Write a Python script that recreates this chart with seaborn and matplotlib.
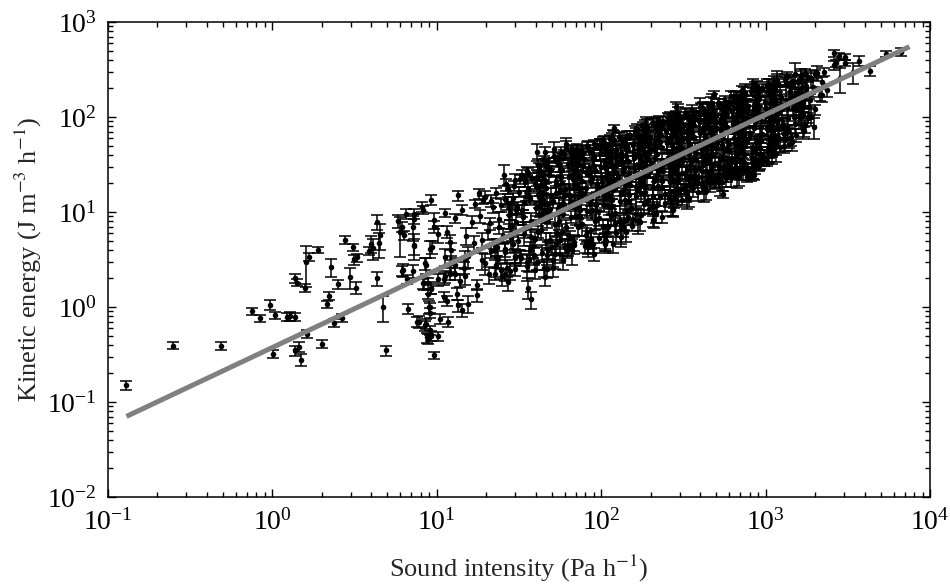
import numpy as np
import pandas as pd
import matplotlib
matplotlib.use("Agg")
import matplotlib.pyplot as plt
import seaborn as sns
from matplotlib.ticker import LogLocator, NullFormatter

# ---------------- data ----------------
# isolated low-intensity points (x: sound intensity, y: kinetic energy, rel: relative error)
low_x = [0.129, 0.25, 0.49, 0.75, 0.84, 0.97, 1.01, 1.04, 1.23, 1.28, 1.37, 1.37, 1.42, 1.58, 1.61,
         1.68, 1.89, 1.38, 1.46, 1.49, 1.62, 2.0, 2.16, 2.21, 2.28, 2.36, 2.53, 2.64, 2.77, 2.96,
         3.10, 3.14, 3.29, 3.22, 3.87, 4.0, 4.09, 4.31, 4.31, 4.45, 4.51, 4.71, 4.89, 5.8, 6.0,
         6.15, 6.15, 6.37, 6.7, 6.6, 7.25, 7.25, 7.2, 7.3, 7.2, 7.6]
low_y = [0.15, 0.39, 0.39, 0.90, 0.76, 1.06, 0.32, 0.82, 0.79, 0.80, 0.79, 2.0, 1.81, 1.59, 2.98,
         3.37, 3.99, 0.35, 0.38, 0.28, 0.52, 0.41, 1.07, 1.31, 2.64, 0.68, 1.73, 0.77, 5.08, 2.06,
         4.26, 3.18, 3.32, 1.60, 3.89, 4.61, 4.19, 7.86, 2.0, 4.66, 5.69, 1.0, 0.35, 8.05, 6.17,
         6.97, 2.40, 5.69, 0.96, 1.96, 9.6, 8.5, 7.0, 4.5, 2.4, 0.70]
low_rel = [0.10, 0.085, 0.10, 0.09, 0.08, 0.12, 0.10, 0.09, 0.09, 0.10, 0.10, 0.10, 0.09, 0.09, 0.46,
           0.09, 0.08, 0.12, 0.12, 0.15, 0.10, 0.09, 0.09, 0.09, 0.22, 0.10, 0.10, 0.10, 0.10, 0.25,
           0.09, 0.12, 0.10, 0.15, 0.10, 0.20, 0.25, 0.17, 0.16, 0.30, 0.30, 0.30, 0.12, 0.15, 0.45,
           0.12, 0.12, 0.10, 0.12, 0.12, 0.12, 0.12, 0.30, 0.30, 0.15, 0.12]

# distinct points around 6-120 Pa/h
mid_x = [8.1, 8.5, 9.1, 9.6, 8.4, 8.8, 9.0, 8.6, 8.7, 9.6, 9.3, 7.8, 9.3, 13.4, 18.0,
         25.5, 6.5, 8.3, 7.3, 9.4, 6.2, 8.5, 9.1, 8.9, 9.3, 10.2, 11.7, 11.1, 11.6, 13.3,
         13.5, 14.3, 15.5, 17.7, 14.9, 11.1, 12.0, 12.2, 9.2, 8.3, 8.6, 18.8, 23.1, 23.7, 22.6,
         24.8, 26.1, 27.1, 24.5, 29.9, 32.1, 29.2, 36, 37.7, 39.5, 44.8, 46.9, 51, 39, 58.6,
         62.8, 55.9, 68.8, 83, 87, 81, 9.1, 9.1, 10.5, 13.0, 11.3, 10.2, 8.9, 11.3, 13.0,
         14.9, 22.6, 45.8, 51, 91, 105, 118, 9.7, 10.2, 19.6, 21.5, 29.9, 34.3, 41, 45.8,
         52, 61, 65.3, 98, 119]
mid_y = [11.3, 2.88, 4.1, 7.0, 1.77, 1.38, 1.0, 0.67, 0.48, 0.31, 1.56, 0.70, 13.5, 15.0, 15.7,
         24.8, 9.6, 10.6, 4.36, 4.3, 2.44, 0.64, 0.57, 0.46, 0.50, 0.49, 0.70, 1.27, 1.16, 1.38,
         1.04, 0.93, 1.08, 1.33, 2.11, 1.99, 2.24, 3.95, 1.6, 1.77, 2.75, 3.1, 2.75, 3.2, 3.95,
         2.1, 2.2, 1.83, 2.44, 3.3, 3.45, 4.6, 1.6, 1.2, 2.44, 2.6, 2.5, 3.1, 3.5, 3.1,
         4.3, 5.05, 4.5, 4.3, 5.05, 5.7, 0.99, 0.87, 0.75, 2.24, 2.1, 1.95, 1.77, 3.36, 2.75,
         3.2, 2.24, 2.06, 2.6, 3.6, 4.6, 4.6, 8.2, 5.9, 14.5, 13.2, 21.6, 21.6, 43.3, 42.3,
         45.9, 46.7, 41.4, 46.7, 77]
mid_rel = [.12, .15, .2, .15, .15, .12, .15, .12, .12, .08, .12, .15, .12, .12, .12,
           .25, .12, .1, .2, .15, .15, .12, .1, .12, .12, .1, .12, .12, .12, .15,
           .15, .15, .2, .15, .2, .15, .15, .2, .15, .12, .2, .2, .25, .2, .2,
           .2, .15, .2, .2, .15, .15, .2, .25, .2, .2, .2, .2, .15, .2, .2,
           .2, .2, .2, .15, .2, .2, .12, .12, .12, .15, .15, .15, .15, .2, .2,
           .2, .15, .2, .2, .15, .2, .2, .2, .2, .15, .15, .15, .15, .2, .15,
           .2, .2, .15, .25, .08]

# distinct points on the edges of the cloud above 50 Pa/h
high_x = [61, 98, 190, 284, 397, 486, 618, 840, 139, 123, 220, 259, 305, 343, 56,
          60, 89, 107, 132, 142, 93, 145, 156, 206, 236, 272, 284, 320, 343, 385,
          463, 508, 558, 551, 773, 828, 110, 121, 2590, 2800, 3040, 2690, 3040, 3720, 4310,
          5430, 6700, 3410, 2840, 2360, 2200, 1830, 1960, 1690, 1540, 1350, 1290, 1020, 910, 810,
          1070, 1100, 612, 671, 520, 867, 1175, 1350, 1740, 2000, 2250, 105, 291, 848, 930,
          1095, 1290, 720, 889, 1120, 2590]
high_y = [51.8, 48.5, 75.9, 128, 128, 173, 166, 226, 52.7, 44.8, 86, 89, 86, 97, 3.6,
          4.3, 4.6, 4.9, 5.4, 6.1, 8.3, 8.9, 8.5, 8.2, 8.9, 10.6, 13.8, 18.4, 21.6, 21.6,
          21.6, 22.5, 28.7, 15.3, 23.5, 25.5, 7.0, 7.6, 468, 438, 431, 367, 373, 388, 307,
          460, 486, 299, 255, 192, 170, 128, 78, 72.7, 64.5, 79, 67, 33.7, 31.1, 23.8,
          50.6, 44.8, 27.5, 28.7, 21.6, 208, 235, 265, 292, 283, 299, 5.05, 13.2, 24.5, 32.1,
          52.7, 49.4, 191, 212, 244, 350]
high_rel = [.15, .2, .25, .12, .25, .08, .12, .1, .15, .15, .15, .15, .15, .15, .2,
            .2, .2, .2, .2, .2, .2, .15, .15, .15, .15, .15, .15, .15, .15, .12,
            .12, .12, .12, .08, .12, .12, .2, .2, .08, .08, .08, .08, .08, .12, .12,
            .08, .1, .25, .3, .15, .15, .2, .25, .2, .15, .15, .15, .1, .1, .1,
            .15, .15, .15, .15, .15, .12, .12, .12, .1, .1, .1, .2, .15, .12, .12,
            .12, .15, .12, .12, .12, .1]

# dense cloud, 11-56 Pa/h
cloud_a_x = [11.5, 12.3, 13.0, 12.0, 13.8, 11.2,
             14.2, 15.0, 16.3, 15.6, 17.2, 14.7, 16.8, 17.6,
             18.3, 19.1, 20.4, 21.5, 19.7, 22.0, 18.9, 21.1, 20.8, 22.2,
             22.9, 23.8, 24.6, 25.3, 26.2, 27.1, 27.8, 23.4, 25.9, 26.7, 24.1, 28.0,
             28.6, 29.4, 30.3, 31.2, 32.0, 32.9, 33.8, 34.7, 35.2, 29.9, 31.7, 33.3, 34.2, 30.8,
             35.9, 36.8, 37.6, 38.5, 39.4, 40.3, 41.2, 42.2, 43.1, 44.0, 36.3, 38.0, 39.9, 41.7, 43.6, 44.4,
             45.2, 46.3, 47.5, 48.6, 49.8, 51.0, 52.2, 53.5, 54.7, 55.8, 46.9, 48.1, 50.4, 52.9, 54.1, 55.2]
cloud_a_y = [6.2, 2.9, 8.6, 4.8, 1.9, 9.8,
             10.5, 5.6, 7.9, 3.4, 12.1, 2.6, 4.7, 1.7,
             9.1, 13.5, 6.3, 3.9, 2.9, 11.2, 5.1, 7.6, 2.2, 4.6,
             15.8, 8.4, 11.9, 5.6, 3.8, 17.3, 7.2, 4.3, 13.8, 2.6, 6.9, 10.1,
             12.6, 18.8, 7.9, 4.9, 22.1, 10.4, 5.8, 14.7, 3.0, 2.5, 16.2, 8.8, 6.6, 11.2,
             26.0, 13.9, 8.1, 4.4, 19.5, 11.0, 6.2, 29.4, 16.1, 9.4, 3.1, 22.8, 5.2, 14.3, 3.7, 24.0,
             35.0, 17.7, 9.9, 5.1, 27.5, 13.0, 7.4, 21.2, 38.1, 11.6, 3.5, 24.4, 4.3, 16.0, 6.0, 30.9]
cloud_a_rel = [.15, .2, .12, .18, .15, .1,
               .12, .2, .15, .25, .1, .15, .2, .12,
               .15, .1, .2, .15, .25, .12, .18, .15, .2, .12,
               .12, .2, .15, .18, .25, .1, .15, .2, .12, .2, .15, .18,
               .15, .12, .2, .18, .1, .15, .25, .12, .2, .15, .12, .18, .2, .15,
               .12, .15, .2, .25, .1, .18, .15, .12, .2, .15, .25, .12, .18, .15, .2, .1,
               .1, .15, .2, .18, .12, .15, .25, .12, .1, .2, .2, .15, .18, .12, .2, .15]

# dense cloud, 56-224 Pa/h
cloud_b_x = [56.8, 58.2, 59.6, 61.0, 62.5, 64.0, 65.5, 67.1, 68.7, 70.1, 57.5, 60.3, 63.2, 66.3, 69.4, 58.9, 61.7, 67.9,
             71.6, 73.3, 75.0, 76.8, 78.6, 80.4, 82.3, 84.2, 86.2, 88.2, 72.5, 74.2, 77.7, 79.5, 81.4, 83.3, 85.2, 87.2,
             90.1, 92.2, 94.4, 96.6, 98.9, 101, 104, 106, 108, 111, 91.1, 93.3, 95.5, 97.7, 100, 102, 105, 107, 110, 109,
             113, 116, 118, 121, 124, 127, 130, 133, 136, 139, 114, 117, 120, 123, 126, 129, 132, 135, 138, 140,
             143, 146, 150, 153, 157, 161, 164, 168, 172, 176, 144, 148, 151, 155, 159, 163, 166, 170, 174, 177,
             180, 184, 189, 193, 198, 202, 207, 212, 217, 222, 182, 186, 191, 196, 200, 205, 210, 214, 219, 223, 187, 208]
cloud_b_y = [42.2, 20.3, 11.8, 6.9, 32.0, 15.2, 8.9, 25.3, 4.8, 38.7, 28.0, 17.6, 5.7, 12.8, 19.9, 9.6, 3.9, 44.6,
             46.0, 23.5, 13.3, 7.5, 35.8, 18.1, 10.2, 29.0, 5.2, 41.3, 31.6, 9.0, 15.6, 4.4, 26.2, 49.5, 12.2, 21.0,
             52.0, 27.4, 15.1, 8.6, 40.5, 20.8, 11.8, 33.1, 6.1, 47.3, 36.2, 10.5, 18.0, 5.3, 30.0, 55.4, 13.9, 24.1, 7.2, 16.6,
             58.4, 30.7, 17.2, 9.7, 45.0, 23.5, 13.1, 36.8, 6.9, 52.3, 40.2, 11.6, 20.5, 6.0, 33.4, 62.1, 15.4, 27.0, 8.1, 19.0,
             65.0, 34.1, 19.3, 10.9, 50.6, 26.2, 14.7, 41.1, 7.8, 58.0, 45.4, 13.0, 23.0, 7.2, 37.2, 70.0, 17.1, 30.0, 9.2, 21.5,
             80.5, 42.3, 23.8, 13.4, 62.0, 32.5, 18.2, 50.8, 9.6, 71.5, 56.1, 16.1, 28.4, 10.8, 46.0, 86.7, 21.1, 37.3, 11.9, 26.5, 66.0, 14.6]
cloud_b_rel = [.15, .2, .12, .18, .1, .25, .15, .12, .2, .15, .18, .12, .2, .15, .25, .1, .15, .12,
               .12, .15, .2, .25, .1, .18, .15, .12, .2, .15, .12, .2, .18, .15, .1, .12, .25, .15,
               .1, .15, .2, .18, .12, .25, .15, .1, .2, .12, .15, .18, .2, .12, .15, .1, .2, .25, .15, .12,
               .12, .2, .15, .18, .1, .15, .25, .12, .2, .1, .15, .18, .12, .2, .15, .1, .25, .12, .2, .15,
               .1, .15, .2, .12, .18, .15, .25, .1, .2, .12, .15, .2, .18, .12, .15, .1, .2, .25, .15, .12,
               .1, .15, .2, .12, .18, .15, .25, .1, .2, .12, .15, .2, .18, .12, .15, .1, .2, .25, .15, .12, .18, .2]

# dense cloud, 224-710 Pa/h
cloud_c_x = [226, 232, 237, 243, 249, 255, 261, 267, 273, 279, 229, 234, 240, 246, 252, 258, 264, 270, 276, 281, 235, 262,
             285, 291, 298, 306, 313, 321, 328, 336, 344, 352, 288, 295, 302, 309, 317, 324, 332, 340, 348, 354, 296, 330, 338, 311,
             359, 367, 376, 385, 394, 404, 413, 423, 433, 443, 363, 371, 380, 390, 399, 409, 418, 428, 438, 445, 372, 415, 426, 393,
             452, 463, 474, 485, 497, 509, 521, 533, 546, 558, 457, 468, 479, 491, 503, 515, 527, 540, 552, 560, 469, 520, 536, 495,
             569, 582, 596, 610, 625, 640, 655, 671, 687, 703, 575, 589, 603, 617, 632, 648, 663, 679, 695, 706, 590, 655, 675, 623]
cloud_c_y = [92.0, 48.3, 27.3, 15.4, 71.2, 37.4, 20.9, 58.6, 11.0, 82.0, 64.4, 18.5, 32.6, 12.4, 53.0, 98.3, 24.2, 42.8, 13.7, 30.3, 76.0, 16.7,
             105, 55.3, 31.2, 17.6, 81.2, 42.7, 23.9, 66.8, 14.1, 94.0, 73.4, 21.2, 37.2, 13.3, 60.4, 110, 27.7, 48.9, 19.3, 34.6, 87.0, 16.0, 76.0, 26.0,
             118, 62.1, 35.0, 20.0, 91.1, 47.9, 26.9, 74.9, 16.6, 106, 82.6, 23.8, 41.7, 16.2, 67.8, 124, 31.1, 54.9, 21.7, 38.8, 97.5, 18.6, 85.0, 29.0,
             132, 69.8, 39.4, 22.6, 102, 53.7, 30.2, 84.1, 20.8, 119, 92.6, 26.7, 46.8, 20.3, 76.1, 139, 34.9, 61.6, 24.4, 43.6, 110, 22.0, 95.0, 32.5,
             148, 78.3, 44.1, 25.3, 115, 60.2, 33.9, 94.3, 23.3, 134, 104, 29.9, 52.5, 22.7, 85.3, 156, 39.1, 69.1, 27.4, 48.9, 123, 25.5, 107, 36.5]
cloud_c_rel = [.12, .15, .2, .1, .18, .15, .25, .12, .2, .1, .15, .18, .12, .2, .15, .1, .25, .12, .2, .15, .18, .12,
               .1, .15, .2, .12, .18, .15, .25, .1, .2, .12, .15, .2, .18, .12, .15, .1, .2, .25, .15, .12, .18, .2, .1, .15,
               .12, .15, .2, .1, .18, .15, .25, .12, .2, .1, .15, .18, .12, .2, .15, .1, .25, .12, .2, .15, .18, .12, .1, .2,
               .1, .15, .2, .12, .18, .15, .25, .1, .2, .12, .15, .2, .18, .12, .15, .1, .2, .25, .15, .12, .18, .2, .1, .15,
               .12, .15, .2, .1, .18, .15, .25, .12, .2, .1, .15, .18, .12, .2, .15, .1, .25, .12, .2, .15, .18, .12, .1, .2]

# dense cloud, 710-2240 Pa/h
cloud_d_x = [716, 733, 750, 768, 787, 805, 825, 844, 864, 885, 724, 741, 759, 777, 796, 815, 834, 854, 875, 889, 742, 850,
             901, 922, 944, 967, 990, 1014, 1038, 1062, 1088, 1114, 911, 933, 956, 979, 1002, 1026, 1050, 1075, 1100, 1120,
             1134, 1162, 1190, 1218, 1247, 1276, 1307, 1338, 1370, 1405, 1148, 1204, 1262, 1322, 1354, 1390,
             1430, 1470, 1510, 1550, 1590, 1640, 1680, 1720, 1760, 1450, 1570, 1700,
             1800, 1870, 1930, 2000, 2060, 2130, 2200, 1900]
cloud_d_y = [166, 87.8, 49.5, 28.4, 129, 67.5, 38.0, 106, 31.6, 150, 117, 33.5, 58.9, 29.1, 95.7, 186, 43.9, 77.5, 35.3, 54.9, 140, 120,
             186, 98.5, 55.5, 36.0, 145, 75.7, 42.6, 119, 39.9, 168, 131, 40.5, 66.1, 37.8, 107, 210, 49.2, 87.0, 60.5, 215,
             209, 110, 62.3, 48.5, 163, 84.9, 57.8, 134, 96.8, 188, 147, 76.0, 120, 236, 70.2, 52.0,
             234, 123, 85.0, 180, 100, 265, 150, 70.5, 210, 167, 135, 111,
             262, 150, 205, 120, 290, 172, 236, 100]
cloud_d_rel = [.1, .15, .2, .12, .18, .15, .25, .1, .2, .12, .15, .2, .18, .12, .15, .1, .2, .25, .15, .12, .18, .2,
               .12, .15, .2, .1, .18, .15, .25, .12, .2, .1, .15, .18, .12, .2, .15, .1, .25, .12, .2, .15,
               .1, .15, .2, .12, .18, .15, .25, .1, .2, .12, .15, .2, .18, .12, .15, .1,
               .12, .15, .2, .1, .18, .15, .25, .12, .2, .1, .15, .18,
               .1, .15, .2, .12, .18, .15, .12, .2]

# dense cloud (in-between columns), 26-240 Pa/h
cloud_e_x = [26.5, 27.4, 28.3, 29.0, 29.8, 27.0, 28.8, 26.0, 30.2, 28.0,
             33.0, 34.0, 35.0, 36.0, 37.0, 33.6, 34.6, 35.6, 36.6, 37.4, 32.5, 35.3,
             41.5, 42.6, 43.8, 45.0, 46.2, 47.2, 41.0, 42.0, 43.2, 44.4, 45.6, 46.8, 47.6, 44.0,
             52.0, 53.4, 54.8, 56.3, 57.8, 59.3, 52.7, 54.1, 55.5, 57.0, 58.5, 59.8, 53.0, 56.0,
             65.5, 67.3, 69.0, 70.8, 72.6, 74.5, 66.4, 68.2, 70.0, 71.7, 73.5, 75.0, 65.0, 69.5, 72.0, 74.0,
             82.4, 84.6, 86.9, 89.1, 91.4, 93.8, 83.5, 85.7, 88.0, 90.3, 92.6, 94.5, 82.0, 87.5, 90.8, 93.2,
             104, 107, 109, 112, 115, 118, 105, 108, 111, 114, 117, 119, 103, 110, 113, 116,
             131, 134, 137, 141, 144, 148, 132, 136, 139, 142, 146, 149, 130, 138, 143, 147, 133, 140,
             165, 169, 173, 178, 182, 186, 167, 171, 175, 180, 184, 188, 164, 174, 179, 185, 170, 183,
             208, 213, 218, 224, 229, 235, 210, 216, 221, 227, 232, 237, 206, 219, 226, 233, 214, 230]
cloud_e_y = [19.5, 9.3, 5.3, 14.1, 3.4, 12.4, 7.1, 4.1, 10.6, 2.4,
             24.5, 12.3, 6.8, 17.5, 4.0, 9.0, 20.8, 2.7, 14.6, 5.5, 3.3, 26.8,
             31.5, 15.8, 8.6, 22.4, 5.0, 12.0, 3.0, 26.7, 6.4, 18.6, 10.3, 34.0, 4.0, 13.6,
             38.5, 19.3, 10.7, 28.0, 6.2, 14.9, 3.6, 33.5, 8.0, 23.1, 12.5, 41.0, 4.6, 17.0,
             43.8, 22.0, 12.0, 31.5, 7.0, 17.3, 4.0, 38.0, 9.1, 26.5, 14.2, 46.0, 5.3, 20.0, 35.0, 10.4,
             49.0, 25.0, 13.7, 36.1, 8.0, 19.7, 4.8, 42.5, 10.4, 30.2, 16.2, 51.0, 6.1, 22.7, 39.0, 11.9,
             55.0, 28.2, 15.5, 40.8, 9.0, 22.3, 5.6, 48.0, 11.7, 34.0, 18.3, 57.5, 6.9, 25.6, 44.0, 13.4,
             62.0, 31.8, 17.5, 46.0, 10.2, 25.2, 6.6, 54.0, 13.3, 38.4, 20.7, 65.0, 7.8, 28.9, 49.7, 15.1, 41.5, 58.0,
             74.0, 38.0, 20.9, 55.0, 12.2, 30.0, 8.3, 64.5, 15.9, 45.8, 24.7, 77.5, 9.6, 34.4, 59.3, 18.0, 49.5, 69.0,
             87.0, 44.7, 24.6, 64.7, 14.3, 35.3, 9.8, 75.8, 18.7, 53.9, 29.0, 91.0, 11.3, 40.5, 69.7, 21.2, 58.3, 81.0]
cloud_e_rel = [.15, .2, .25, .12, .2, .15, .3, .18, .12, .2,
               .12, .2, .15, .25, .2, .18, .12, .3, .15, .2, .18, .1,
               .15, .2, .25, .12, .2, .3, .18, .12, .2, .15, .25, .1, .2, .15,
               .12, .2, .15, .25, .2, .18, .3, .12, .2, .15, .25, .1, .2, .15,
               .15, .2, .25, .12, .2, .18, .3, .12, .2, .15, .25, .1, .2, .15, .12, .3,
               .12, .2, .15, .25, .2, .18, .3, .12, .2, .15, .25, .1, .2, .15, .3, .12,
               .15, .2, .25, .12, .2, .18, .3, .12, .2, .15, .25, .1, .2, .15, .12, .3,
               .12, .2, .15, .25, .2, .18, .3, .12, .2, .15, .25, .1, .2, .15, .3, .12, .18, .1,
               .15, .2, .25, .12, .2, .18, .3, .12, .2, .15, .25, .1, .2, .15, .12, .3, .1, .18,
               .12, .2, .15, .25, .2, .18, .3, .12, .2, .15, .25, .1, .2, .15, .3, .12, .18, .1]

# dense cloud (in-between columns), 260-1880 Pa/h
cloud_f_x = [262, 268, 275, 282, 289, 296, 265, 271, 278, 285, 292, 298, 260, 276, 287, 294, 270, 283, 290, 273,
             330, 338, 346, 355, 364, 373, 334, 342, 350, 359, 368, 376, 328, 348, 361, 370, 340, 357, 366, 344,
             416, 426, 436, 447, 458, 469, 421, 431, 441, 452, 463, 474, 413, 438, 455, 466, 428, 449, 460, 433,
             523, 536, 549, 562, 576, 590, 530, 543, 556, 569, 583, 597, 520, 551, 572, 587, 539, 565, 579, 545,
             658, 674, 691, 708, 725, 743, 666, 683, 699, 716, 734, 751, 655, 694, 720, 739, 679, 712, 729, 686,
             828, 849, 870, 891, 913, 935, 838, 859, 880, 902, 924, 945, 825, 874, 907, 930, 855, 896,
             1042, 1068, 1095, 1122, 1150, 1178, 1055, 1081, 1108, 1136, 1164, 1190, 1048, 1115,
             1312, 1345, 1378, 1413, 1448, 1484, 1330, 1395, 1430, 1465,
             1650, 1700, 1760, 1820, 1880, 1730]
cloud_f_y = [99.0, 50.8, 28.0, 73.5, 16.3, 40.1, 13.0, 86.1, 21.2, 61.2, 33.0, 103, 14.2, 46.0, 79.2, 24.1, 66.2, 92.0, 18.0, 36.5,
             110, 56.5, 31.1, 81.7, 18.1, 44.6, 15.2, 95.7, 23.6, 68.0, 36.7, 114, 16.5, 51.1, 88.0, 26.8, 73.6, 102, 20.3, 40.6,
             124, 63.5, 35.0, 91.8, 20.4, 50.1, 18.0, 107, 26.5, 76.4, 41.2, 129, 19.2, 57.4, 98.9, 30.1, 82.7, 115, 22.8, 45.6,
             139, 71.3, 39.3, 103, 22.9, 56.3, 21.3, 121, 29.8, 85.8, 46.3, 145, 24.5, 64.5, 111, 33.8, 92.9, 129, 25.6, 51.2,
             165, 84.7, 46.7, 122, 27.2, 66.9, 25.3, 143, 35.4, 102, 55.0, 172, 29.0, 76.6, 132, 40.1, 110, 153, 30.4, 60.8,
             194, 99.4, 54.8, 143, 33.8, 78.5, 32.0, 168, 41.6, 120, 64.6, 202, 36.9, 89.9, 155, 47.1, 129, 180,
             220, 113, 62.4, 162, 41.5, 89.3, 48.3, 191, 71.5, 136, 52.6, 228, 100, 180,
             249, 128, 70.8, 184, 55.0, 101, 216, 154, 62.0, 240,
             280, 142, 198, 98, 255, 82]
cloud_f_rel = [.15, .2, .25, .12, .2, .18, .3, .12, .2, .15, .25, .1, .2, .15, .12, .3, .1, .18, .2, .15,
               .12, .2, .15, .25, .2, .18, .3, .12, .2, .15, .25, .1, .2, .15, .3, .12, .18, .1, .2, .15,
               .15, .2, .25, .12, .2, .18, .3, .12, .2, .15, .25, .1, .2, .15, .12, .3, .1, .18, .2, .15,
               .12, .2, .15, .25, .2, .18, .3, .12, .2, .15, .25, .1, .2, .15, .3, .12, .18, .1, .2, .15,
               .15, .2, .25, .12, .2, .18, .3, .12, .2, .15, .25, .1, .2, .15, .12, .3, .1, .18, .2, .15,
               .12, .2, .15, .25, .2, .18, .3, .12, .2, .15, .25, .1, .2, .15, .3, .12, .18, .1,
               .15, .2, .25, .12, .2, .18, .3, .12, .2, .15, .25, .1, .2, .15,
               .12, .2, .15, .25, .2, .18, .3, .12, .2, .15,
               .15, .2, .25, .12, .2, .18]

# dense core of the cloud (upper-middle part of the band), 40-1700 Pa/h
cloud_g_x = [40.5, 41.8, 43.0, 44.3, 45.7, 47.0, 48.4, 49.6, 42.4, 46.3, 40.9, 48.9,
             63.5, 65.2, 66.9, 68.6, 70.4, 72.3, 74.1, 76.0, 78.0, 64.4, 67.7, 71.3, 75.1, 77.1,
             100.5, 103, 105.5, 108.2, 110.9, 113.7, 116.5, 119.4, 122.4, 125.4, 101.8, 107, 112.3, 117.9, 123.8, 104.3,
             159, 163, 167, 171, 175.5, 180, 184.5, 189, 194, 199, 161, 169, 177, 186.5, 196, 173,
             252, 258, 265, 271, 278, 285, 292, 300, 307, 315, 255, 268, 281, 295, 311, 262, 288, 303,
             400, 410, 420, 431, 442, 453, 464, 476, 488, 500, 405, 425, 447, 470, 494, 415, 436, 482,
             634, 650, 666, 683, 700, 717, 735, 754, 773, 792, 642, 674, 708, 745, 782, 658, 691, 726,
             1005, 1030, 1056, 1083, 1110, 1138, 1166, 1195, 1225, 1256, 1018, 1069, 1123, 1180, 1240, 1096,
             1500, 1540, 1580, 1620, 1660, 1700, 1520, 1600, 1640, 1680]
cloud_g_y = [18.2, 9.6, 25.5, 13.4, 21.0, 8.3, 28.7, 15.0, 11.7, 30.5, 23.3, 10.8,
             24.1, 12.6, 33.8, 17.8, 27.8, 10.9, 38.9, 21.4, 30.4, 15.2, 36.1, 19.5, 13.9, 42.0,
             29.6, 17.2, 45.7, 23.0, 36.9, 14.8, 52.0, 26.9, 40.5, 19.8, 49.2, 33.0, 21.4, 58.8, 31.0, 15.9,
             40.5, 23.6, 62.5, 31.4, 50.8, 20.5, 71.3, 36.9, 55.7, 27.1, 67.1, 45.2, 29.4, 80.5, 42.4, 22.0,
             55.6, 32.3, 85.6, 43.0, 69.6, 28.1, 97.7, 50.5, 76.3, 37.1, 91.9, 61.9, 40.3, 110, 58.1, 30.1, 80.0, 46.6,
             70.5, 41.0, 108, 54.5, 88.3, 35.7, 124, 64.0, 96.7, 47.0, 117, 78.5, 51.1, 139, 73.6, 38.2, 101, 59.0,
             91.0, 52.7, 139, 70.2, 114, 46.0, 160, 82.5, 125, 60.5, 151, 101, 65.9, 178, 94.8, 49.3, 131, 76.1,
             125, 72.4, 190, 96.5, 156, 63.2, 220, 113, 172, 83.2, 207, 139, 90.6, 244, 130, 67.7,
             165, 118, 240, 141, 205, 126, 282, 190, 100, 155]
cloud_g_rel = [.2, .15, .25, .12, .3, .18, .15, .2, .25, .12, .2, .3,
               .25, .15, .2, .3, .12, .2, .18, .25, .15, .3, .2, .12, .25, .18,
               .2, .3, .15, .25, .12, .2, .3, .18, .25, .15, .2, .3, .12, .25, .2, .18,
               .3, .2, .15, .25, .2, .12, .3, .18, .25, .15, .2, .3, .12, .25, .2, .18,
               .2, .3, .15, .25, .12, .2, .3, .18, .25, .15, .2, .3, .12, .25, .2, .18, .3, .15,
               .3, .2, .15, .25, .2, .12, .3, .18, .25, .15, .2, .3, .12, .25, .2, .18, .15, .3,
               .2, .3, .15, .25, .12, .2, .3, .18, .25, .15, .2, .3, .12, .25, .2, .18, .3, .15,
               .3, .2, .15, .25, .2, .12, .3, .18, .25, .15, .2, .3, .12, .25, .2, .18,
               .2, .3, .15, .25, .12, .2, .3, .18, .25, .15]

# power-law fit line (end points)
fit_x = [0.13, 7500]
fit_y = [0.0705, 550]

x_label = "Sound intensity (Pa h$^{-1}$)"
y_label = "Kinetic energy (J m$^{-3}$ h$^{-1}$)"

# ---------------- build table ----------------
groups = [(low_x, low_y, low_rel), (mid_x, mid_y, mid_rel), (high_x, high_y, high_rel),
          (cloud_a_x, cloud_a_y, cloud_a_rel), (cloud_b_x, cloud_b_y, cloud_b_rel),
          (cloud_c_x, cloud_c_y, cloud_c_rel), (cloud_d_x, cloud_d_y, cloud_d_rel),
          (cloud_e_x, cloud_e_y, cloud_e_rel), (cloud_f_x, cloud_f_y, cloud_f_rel),
          (cloud_g_x, cloud_g_y, cloud_g_rel)]
df = pd.concat([pd.DataFrame({"x": gx, "y": gy, "rel": gr}) for gx, gy, gr in groups],
               ignore_index=True)
df["err"] = df["y"] * df["rel"]

# ---------------- style ----------------
sns.set_style("ticks")
plt.rcParams["font.family"] = ["Liberation Serif", "DejaVu Serif"]
plt.rcParams["mathtext.fontset"] = "stix"
plt.rcParams["axes.linewidth"] = 1.1

fig = plt.figure(figsize=(9.5, 5.88), dpi=100)
ax = fig.add_axes([0.1134, 0.1548, 0.979 - 0.1134, 0.9626 - 0.1548])
ax.set_xscale("log")
ax.set_yscale("log")

ax.errorbar(df["x"], df["y"], yerr=df["err"], fmt="none", ecolor="black",
            elinewidth=1.1, capsize=4.3, capthick=1.1, zorder=2)
sns.scatterplot(data=df, x="x", y="y", color="black", s=16, linewidth=0,
                ax=ax, zorder=3, legend=False)
sns.lineplot(x=fit_x, y=fit_y, color="#808080", linewidth=3.6, ax=ax, zorder=4,
             solid_capstyle="butt")

ax.set_xlim(0.1, 1e4)
ax.set_ylim(0.01, 1000)
ax.xaxis.set_major_locator(LogLocator(base=10, numticks=10))
ax.yaxis.set_major_locator(LogLocator(base=10, numticks=10))
ax.xaxis.set_minor_locator(LogLocator(base=10, subs=np.arange(2, 10), numticks=20))
ax.yaxis.set_minor_locator(LogLocator(base=10, subs=np.arange(2, 10), numticks=20))
ax.xaxis.set_minor_formatter(NullFormatter())
ax.yaxis.set_minor_formatter(NullFormatter())
ax.tick_params(which="both", direction="in", top=True, right=True, width=1.0,
               labelsize=20, colors="black")
ax.tick_params(which="major", length=6)
ax.tick_params(which="minor", length=3.5)
ax.tick_params(axis="x", which="major", pad=9)
ax.tick_params(axis="y", which="major", pad=8)

ax.set_xlabel(x_label, fontsize=19, labelpad=12)
ax.set_ylabel(y_label, fontsize=19, labelpad=2)
for s in ax.spines.values():
    s.set_visible(True)
    s.set_color("black")

fig.savefig("out.png", dpi=100, facecolor="white")
